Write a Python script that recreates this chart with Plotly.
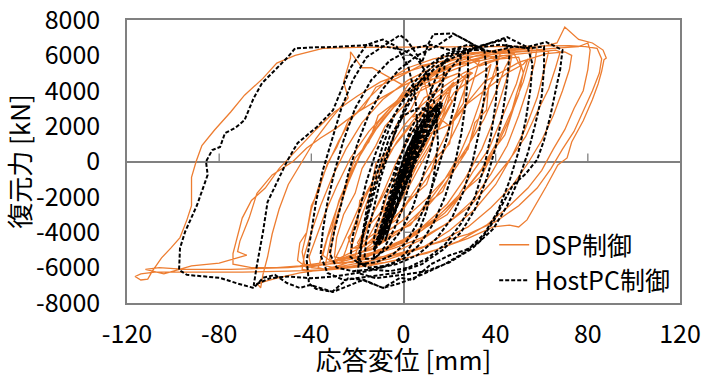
import plotly.graph_objects as go

# ---------------- data ----------------
# DSP control: displacement [mm] / restoring force [kN]
dsp_x_small = [0, 3, 6, 10, 13, 11, 8, 4, 0, -3, -6, -4, -1, 2, 6, 10, 15, 19, 21, 19, 16, 12, 7, 2,
               -3, -8, -12, -14, -11, -7, -3, 1, 5, 10, 16, 22, 27, 29, 26, 23, 18, 13, 7, 1, -5, -11,
               -16, -19, -17, -13, -8, -3, 3, 9]
dsp_y_small = [0, 900, 1800, 2700, 3300, 2500, 1400, 200, -900, -1900, -2800, -2100, -1000, 0, 1300,
               2400, 3400, 4000, 4300, 3300, 2200, 900, -300, -1500, -2600, -3500, -4200, -4600, -3700,
               -2600, -1300, 0, 1200, 2500, 3600, 4400, 4900, 5000, 3900, 2800, 1400, 100, -1200, -2400,
               -3400, -4300, -4900, -5200, -4200, -2900, -1500, 0, 1500, 2800]

dsp_x_jag = [4, 9, 13, 18, 24, 27, 26, 22, 20, 14, 10, 3, -3, -10, -17, -22, -24, -20, -19, -14, -12,
             -6, -3, 3, 8, 15, 21, 30, 36, 41, 40, 37, 36, 31, 28, 22, 17, 9, 3, -6, -14, -23, -31,
             -35, -33, -31, -28, -25, -21, -15, -11, -3, 3, 12, 19, 28, 33, 42, 50, 52, 50, 48, 44,
             40, 34, 26, 19, 10, 0, -11, -22, -33, -42, -46, -45, -42, -40, -37, -33, -29, -24, -17,
             -12, -3, 7, 18, 28, 38, 48, 51, 49, 45, 41, 37, 30, 24, 15, 6, -4, -15, -25, -30, -29,
             -26, -21, -18, -12, -8, -1, 6, 12, 20, 9]
dsp_y_jag = [2500, 3600, 3900, 4700, 5000, 4600, 3300, 2500, 1000, 200, -1300, -2100, -3300, -3900,
             -4800, -4900, -4300, -3600, -2200, -1500, -100, 700, 2100, 2900, 4200, 4500, 5400, 5600,
             6000, 5700, 4900, 4300, 2900, 2200, 700, -200, -1700, -2500, -3600, -4100, -5000, -5300,
             -5700, -5300, -4300, -3700, -2200, -1300, 200, 1100, 2600, 3400, 4500, 4900, 5700, 5900,
             5400, 5800, 5900, 5000, 3800, 3100, 1500, 800, -800, -1700, -3000, -3700, -4600, -5000,
             -5700, -5800, -6000, -5600, -4600, -4000, -2500, -1700, -100, 800, 2300, 3100, 4200, 4700,
             5400, 5700, 6100, 6200, 6100, 5300, 4400, 3200, 1900, 700, -600, -1900, -3100, -4100,
             -4800, -5300, -5500, -5400, -4300, -3000, -1800, -400, 900, 2000, 3000, 3900, 4300, 4800,
             4600, 2800]

dsp_x_fill = [12, 20, 28, 37, 45, 52, 54, 52, 49, 46, 41, 35, 27, 18, 8, -4, -16, -28, -38, -43, -44,
              -42, -40, -37, -33, -28, -22, -15, -7, 2, 13, 25, 34, 42, 41, 38, 35, 31, 27, 21, 14, 6,
              -3, -13, -24, -30, -32, -31, -29, -26, -22, -17, -11, -4, 4, 14, 24, 31, 33, 31, 28, 24,
              19, 13, 6, -2, -10, -17, -22, -23, -21, -18, -14, -9, -3, 4, 11, 18, 22, 21, 18, 14, 9,
              3, -3, -8, -10, -8, -4, 1, 6, 10]
dsp_y_fill = [2000, 3300, 4200, 5000, 5500, 5800, 5000, 3800, 2400, 1000, -300, -1600, -2900, -3900,
              -4700, -5300, -5700, -5900, -5800, -5100, -4000, -2700, -1500, -200, 1200, 2500, 3600,
              4600, 5300, 5800, 6100, 6200, 6100, 5700, 4600, 3300, 1800, 500, -700, -2000, -3200,
              -4100, -4900, -5400, -5700, -5500, -4600, -3300, -1900, -500, 900, 2200, 3300, 4300, 5000,
              5500, 5800, 5700, 4800, 3600, 2200, 900, -400, -1700, -2900, -3800, -4500, -4900, -5000,
              -4200, -3000, -1700, -300, 1100, 2300, 3300, 4000, 4500, 4400, 3300, 2000, 700, -600,
              -1800, -2800, -3500, -3100, -2000, -800, 500, 1500, 2100]

dsp_x_right = [20, 35, 50, 62, 70, 73, 72, 69, 65, 60, 54, 47, 38, 28, 16, 3, -10, -22, -30, -34, -33,
               -31, -28, -24, -19, -12, -4, 6, 18, 30, 44, 58, 66, 68, 66, 63, 58, 53, 46, 38, 29, 19,
               8, -4, -14, -20, -21, -18, -13, -7, 0, 8]
dsp_y_right = [4500, 5600, 6100, 6200, 6000, 5200, 4000, 2600, 1200, -100, -1400, -2600, -3700, -4500,
               -5100, -5500, -5800, -6000, -5900, -5200, -4000, -2700, -1200, 300, 1800, 3100, 4200,
               5000, 5600, 6000, 6200, 6300, 6200, 5300, 4100, 2800, 1400, 100, -1200, -2500, -3500,
               -4300, -4900, -5300, -5600, -5300, -4200, -2900, -1500, -100, 1200, 2400]

dsp_x_mid = [15, 22, 30, 36, 38, 36, 33, 29, 24, 17, 9, 0, -9, -18, -25, -27, -25, -22, -18, -13, -7, 0,
             8, 17, 26, 35, 44, 47, 46, 43, 39, 34, 27, 19, 9, -2, -14, -26, -34, -37, -35, -32, -28,
             -23, -17, -9, 0, 10, 20, 32, 45, 55, 58, 57, 54, 50, 45, 38, 30, 20, 8, -5, -18, -30, -40,
             -44, -43, -40, -36, -31, -25, -18, -9, 2, 14, 28]
dsp_y_mid = [3900, 4700, 5200, 5500, 4600, 3300, 1800, 300, -1200, -2600, -3700, -4500, -5100, -5500,
             -5700, -5000, -3800, -2500, -1000, 600, 2000, 3200, 4200, 5000, 5600, 5900, 6000, 5200,
             3900, 2300, 700, -900, -2400, -3600, -4600, -5300, -5800, -6100, -6000, -5100, -3800,
             -2300, -700, 900, 2400, 3700, 4700, 5500, 6000, 6300, 6400, 6500, 5600, 4200, 2600, 900,
             -700, -2200, -3400, -4400, -5200, -5800, -6100, -6200, -6100, -5300, -4000, -2500, -900,
             700, 2200, 3500, 4600, 5400, 6000, 6300]

dsp_x_large = [40, 55, 62, 66.6, 70, 76, 82, 86.6, 88, 87, 86, 84.5, 82, 78, 73, 71, 67, 62, 57, 53.6,
               50, 46, 39, 28, 14, 0, -15, -30, -50, -70, -94, -108, -114, -116.5, -114, -111, -109,
               -105, -101, -97, -94, -92, -92, -90, -87.5, -82, -75, -69, -61, -55, -47, -35, -20, 0,
               20, 40, 60, 72, 79, 84, 86, 85, 82, 78, 74, 69, 64, 58, 50, 40, 28, 12, -5, -25, -50,
               -75, -95, -106, -112, -104, -96, -92, -80, -68, -72, -71, -67, -63.6, -57, -48, -42,
               -36, -29, -21, -11, 0, 12, 25, 40, 55, 65, 76, 80, 81, 80, 78, 74, 70, 65, 60, 54, 46,
               36, 24, 10, -8, -28, -45, -55, -63.5, -62, -61, -59, -57, -54, -50, -44, -38, -31, -24,
               -26, -23, -23, -18, -13.7, -7, 0, 10, 22, 35]
dsp_y_large = [6450, 6550, 6700, 7600, 6900, 6700, 6300, 5850, 5750, 5100, 4400, 3500, 2300, 1100, 200,
               -200, -1400, -2500, -3300, -3700, -3600, -3700, -4350, -5000, -5500, -5900, -6100, -6200,
               -6250, -6250, -6250, -6350, -6500, -6700, -6650, -6200, -5450, -4900, -4300, -3300,
               -2500, -900, 0, 900, 1780, 2800, 3750, 4700, 5560, 6000, 6400, 6450, 6450, 6480, 6500,
               6520, 6550, 6500, 6400, 5800, 5000, 4000, 2800, 1700, 700, -400, -1500, -2500, -3400,
               -4100, -4700, -5300, -5700, -6000, -6100, -6100, -6000, -6100, -6350, -6050, -5900,
               -5740, -5300, -5100, -4500, -3200, -1800, -760, 0, 760, 1330, 1900, 2700, 3500, 4300,
               5000, 5600, 6100, 6300, 6400, 6500, 6700, 6300, 5200, 4000, 3000, 1800, 700, -500,
               -1500, -2500, -3600, -4500, -5200, -5700, -6000, -6300, -6600, -6900, -7150, -6400,
               -5400, -4100, -2700, -1300, 0, 1300, 2500, 3600, 4500, 5850, 6200, 5300, 5300, 4800,
               4300, 4900, 5600, 6100, 6300]

dsp_x_late = [50, 56, 55, 52, 47, 41, 34, 25, 14, 2, -12, -28, -45, -55, -66, -74, -74, -70, -66, -60,
              -54, -46, -38, -30, -20, -10, 2, 15, 28, 42, 52, 60, 63, 61, 58, 53, 47, 40, 31, 20, 8,
              -6, -20, -33, -40, -41, -38, -34, -29, -23, -15, -6, 4, 15, 26, 36, 44, 47, 44, 40, 35,
              28, 20, 10, -1, -12, -22, -29, -30, -27, -23, -18, -12, -5, 3, 12, 20, 27, 30, 28, 24,
              19, 13, 6, -2, -10, -17, -20, -18, -14, -9, -3, 4, 11, 17, 21, 19, 15, 10, 4, -2, -7,
              -9, -7, -3, 2, 6]
dsp_y_late = [6400, 5900, 4500, 2900, 1200, -400, -1900, -3200, -4300, -5100, -5600, -5900, -6000,
              -6000, -5800, -5200, -3200, -2200, -1500, -400, 700, 1800, 2800, 3700, 4500, 5100, 5600,
              5900, 6100, 6200, 6300, 6200, 5200, 3600, 1900, 300, -1300, -2700, -3900, -4900, -5500,
              -5900, -6100, -6000, -5400, -4300, -2900, -1400, 200, 1700, 3000, 4100, 5000, 5600, 5900,
              6000, 6000, 5300, 3900, 2400, 900, -700, -2100, -3400, -4400, -5100, -5500, -5600,
              -4800, -3600, -2200, -800, 700, 2000, 3200, 4100, 4700, 5000, 5100, 4100, 2800, 1300,
              -200, -1600, -2900, -3900, -4600, -4900, -4000, -2800, -1500, -100, 1300, 2500, 3400,
              3900, 3000, 1800, 500, -800, -1900, -2700, -3200, -2400, -1300, -200, 700]

# HostPC control: displacement [mm] / restoring force [kN]
host_x_core = [0, 2, 4, 6, 5, 3, 0, -2, -4, -5, -4, -2, 0, 3, 6, 9, 8, 5, 2, -1, -3, -6, -8, -7, -5,
               -2, 1, 4, 8, 11, 13, 11, 8, 4, 1, -2, -5, -8, -10, -11, -9, -7, -4, -1, 2, 6, 10, 14,
               16, 14, 10, 6, 2, -2, -5, -8, -11, -13, -11, -9, -6, -3, 0, 4, 8, 12, 15, 12, 8, 4, 0,
               -4, -7, -10, -12, -10, -7, -4, -1, 2, 6]
host_y_core = [0, 700, 1400, 2000, 1500, 800, -200, -900, -1700, -2200, -1600, -700, 100, 1000, 1800,
               2400, 1900, 1100, 200, -700, -1500, -2600, -3400, -2800, -1900, -900, 200, 1100, 2000,
               2600, 3000, 2400, 1600, 500, -500, -1500, -2600, -3600, -4300, -4700, -3900, -3000,
               -1900, -700, 400, 1500, 2300, 2900, 3200, 2600, 1700, 700, -400, -1500, -2600, -3700,
               -4500, -5000, -4300, -3400, -2200, -1000, 200, 1300, 2200, 2800, 3300, 2500, 1500, 400,
               -800, -2100, -3200, -4200, -4800, -4000, -2900, -1600, -300, 800, 1800]

host_x_core2 = [9, 12, 15, 13, 11, 8, 5, 2, -1, -3, -6, -8, -10, -12, -13, -12, -10, -8, -5, -3, 0, 3,
                6, 9, 12, 10, 7, 3, 0, -3, -5, -7, -9, -7, -4, -1, 2, 5, 8, 11, 13, 10, 6, 2, -1, -4,
                -6, -4, -1, 2, 4, 6]
host_y_core2 = [2500, 2900, 3200, 2300, 1600, 800, 100, -700, -1600, -2400, -3400, -4100, -4600, -4900,
                -4500, -3800, -3000, -2000, -1000, -200, 700, 1500, 2100, 2700, 3100, 2400, 1500, 500,
                -600, -1700, -2700, -3500, -4300, -3300, -2000, -800, 300, 1200, 1900, 2500, 2700, 1900,
                900, -300, -1300, -2400, -3200, -2200, -1000, 200, 1000, 1800]

host_x_core3 = [10, 14, 17, 15, 12, 9, 6, 3, 0, -3, -5, -7, -8, -6, -4, -1, 2, 5, 8, 11, 14, 16, 13,
                10, 7, 4, 1, -2, -4, -2, 1, 4, 7, 10, 13, 10, 6, 2, -1, 1, 4, 6]
host_y_core3 = [2600, 3000, 3300, 2600, 1800, 1000, 200, -600, -1400, -2400, -3200, -4000, -4500,
                -3700, -2800, -1800, -800, 100, 900, 1700, 2400, 2800, 2100, 1300, 500, -400, -1300,
                -2300, -3000, -2100, -1100, -200, 700, 1500, 2100, 1300, 400, -500, -1200, -400, 400,
                1000]

host_x_extra = [10, 13, 16, 18, 17, 15, 12, 8, 4, -1, -7, -13, -17, -16, -13, -10, -6, -2, 3, 9, 16,
                23, 28, 28, 27, 25, 22, 18, 13, 7, 0, -8, -15, -19, -18, -16, -13, -9, -4, 2, 9, 17,
                25, 33, 40, 41, 40, 38, 35, 31, 25, 18, 10, 2, -6, -14, -20, -18, -15, -11, -6, 0, 6,
                13, 21, 30, 42, 55, 61, 61, 60, 57, 54, 50, 45, 39, 30, 20, 10, 0, -12, -20, -18, -15,
                -11, -6, 0, 6]
host_y_extra = [3200, 4400, 5300, 5700, 4300, 2600, 800, -1000, -2600, -3900, -4900, -5500, -5500,
                -4300, -2700, -1000, 700, 2300, 3700, 4900, 5800, 6200, 6300, 5000, 3300, 1500, -300,
                -2000, -3500, -4700, -5500, -5900, -6000, -5600, -4300, -2700, -900, 900, 2600, 4000,
                5200, 6000, 6400, 6300, 6200, 5000, 3300, 1500, -300, -2000, -3500, -4700, -5500, -6000,
                -6200, -6100, -5700, -4400, -2800, -1000, 900, 2700, 4100, 5200, 6000, 6400, 6600, 6400,
                6500, 5300, 3700, 2000, 500, -1000, -2500, -3800, -4900, -5700, -6200, -6400, -6600,
                -6300, -4500, -2500, -500, 1400, 2600, 3000]

host_x_mid = [10, 15, 20, 24, 25, 24, 22, 19, 15, 11, 6, 1, -5, -12, -19, -23, -22, -19, -16, -12, -7,
              -1, 6, 14, 22, 30, 35, 36, 35, 33, 30, 26, 21, 14, 6, -3, -14, -22, -29, -32, -30, -27,
              -24, -20, -15, -9, -2, 6, 14, 22, 32, 38, 44, 46, 45, 43, 40, 36, 31, 25, 17, 8, -3,
              -15, -26, -33, -36, -35, -33, -30, -26, -21, -14, -6, 4, 12, 20, 28, 38, 48, 54, 56,
              55, 53, 50, 46, 41, 35, 27, 18, 8, -2, -9, -17, -24, -31, -38, -41, -42, -40, -38, -35,
              -31, -27, -22, -16, -9, -1.5, 1.5, 4, 8, 11, 13, 21.5, 28, 32, 37.6, 45, 53.6, 62, 69]
host_y_mid = [3000, 4200, 5200, 5800, 6100, 4800, 3200, 1400, -400, -2000, -3500, -4600, -5300, -5700,
              -5800, -5400, -4200, -2700, -1100, 500, 2000, 3300, 4400, 5300, 5900, 6300, 6400, 5200,
              3600, 1800, 0, -1700, -3200, -4400, -5300, -5800, -6100, -6200, -6000, -5200, -3900,
              -2400, -700, 1000, 2700, 4100, 5200, 6000, 6500, 7200, 6500, 6700, 6900, 6100, 4500,
              2700, 800, -1000, -2700, -4000, -5000, -5800, -6300, -6500, -6700, -6300, -5300, -3900,
              -2300, -600, 1200, 3000, 4600, 5700, 6400, 6600, 6300, 6600, 6200, 6500, 6400, 5500,
              4000, 2300, 600, -1100, -2800, -4100, -5100, -5800, -6400, -6900, -7150, -6700, -6600,
              -7370, -7200, -6900, -5600, -4000, -2300, -500, 1300, 3000, 4600, 5900, 6500, 7150, 6850,
              6400, 5600, 6700, 7200, 7240, 6800, 6450, 6700, 7030, 6470, 6750, 6300]

host_x_outer = [68, 66, 63.6, 61, 58, 53, 47.5, 43, 39, 33, 27, 20, 12, 4, -1.5, -8.8, -17.6, -30.6,
                -40.6, -45, -50.6, -55.8, -61, -65, -72, -79.6, -94, -97.4, -97, -94.8, -89.6, -85,
                -85.7, -83, -79.6, -77.5, -73, -69, -65, -61.4, -55, -50.6, -47, -40, -30.6, -16, -8,
                0, 6, 10, 14, 15, 13, 10, 6, 1, -5, -12, -20, -30, -40, -50, -58, -63, -65, -63.6,
                -61, -59, -55, -50.6, -46, -37.6, -30.6, -26, -23, -16, -9, -3]
host_y_outer = [5200, 4000, 2500, 1200, 100, -700, -1330, -2400, -3400, -4550, -5000, -5300, -5800,
                -6700, -6580, -7150, -6700, -7370, -6980, -7150, -6870, -6410, -6580, -7150, -6900,
                -6580, -6410, -6130, -4900, -3980, -2460, -760, 0, 650, 820, 1600, 1900, 2340, 3590,
                4430, 5280, 5850, 6400, 6450, 6470, 6580, 6500, 6300, 5800, 5000, 3000, 1000, -1000,
                -2800, -4200, -5200, -5800, -6100, -6300, -6500, -6600, -6500, -6600, -6900, -7000,
                -5850, -4000, -2290, -1160, 0, 1040, 1950, 2900, 4400, 5300, 6600, 6900, 6500]

host_x_late = [2, 5, 6, 5, 3, 0, -4, -8, -11, -13, -12, -9, -6, -3, 0, 3, 6, 9, 11, 10, 7, 4, 1, -3,
               -6, -9, -10, -8, -5, -2, 1, 4, 7, 9]
host_y_late = [5400, 3800, 2200, 600, -1000, -2500, -3800, -4800, -5300, -5500, -4600, -3300, -1900,
               -500, 800, 1800, 2500, 3000, 3300, 2300, 1100, -200, -1400, -2600, -3600, -4300, -4600,
               -3800, -2700, -1500, -300, 700, 1500, 2000]

# axes / labels
x_ticks = [-120, -80, -40, 0, 40, 80, 120]
x_tick_text = ["-120", "-80", "-40", "0", "40", "80", "120"]
y_ticks = [-8000, -6000, -4000, -2000, 0, 2000, 4000, 6000, 8000]
y_tick_text = ["-8000", "-6000", "-4000", "-2000", "0", "2000", "4000", "6000", "8000"]
series_names = ["DSP制御", "HostPC制御"]
x_title = "応答変位 [mm]"
y_title = "復元力 [kN]"

# ---------------- figure ----------------
dsp_x = dsp_x_small + dsp_x_jag + dsp_x_fill + dsp_x_right + dsp_x_mid + dsp_x_large + dsp_x_late
dsp_y = dsp_y_small + dsp_y_jag + dsp_y_fill + dsp_y_right + dsp_y_mid + dsp_y_large + dsp_y_late
host_x = (host_x_core + host_x_core2 + host_x_core3 + host_x_extra + host_x_mid + host_x_outer
          + host_x_late)
host_y = (host_y_core + host_y_core2 + host_y_core3 + host_y_extra + host_y_mid + host_y_outer
          + host_y_late)

FONT = "Noto Sans CJK JP"
AX_GRAY = "#808080"
FS = 25

fig = go.Figure()
fig.add_trace(go.Scatter(x=dsp_x, y=dsp_y, mode="lines", name=series_names[0],
                         line=dict(color="#ED7D31", width=1.3)))
fig.add_trace(go.Scatter(x=host_x, y=host_y, mode="lines", name=series_names[1],
                         line=dict(color="#000000", width=2, dash="4px,2px")))

# small tick marks on the zero-crossing axes
x_range = [-120, 120]
y_range = [-8000, 8000]
plot_w, plot_h = 553, 283
tick_px = 8
y_per_px = (y_range[1] - y_range[0]) / plot_h
x_per_px = (x_range[1] - x_range[0]) / plot_w
shapes = []
for v in x_ticks:
    if v not in (0, x_range[0], x_range[1]):
        shapes.append(dict(type="line", xref="x", yref="y", x0=v, x1=v, y0=0, y1=tick_px * y_per_px,
                           line=dict(color=AX_GRAY, width=1.3), layer="below"))
for v in y_ticks:
    if v not in (0, y_range[0], y_range[1]):
        shapes.append(dict(type="line", xref="x", yref="y", y0=v, y1=v, x0=0, x1=tick_px * x_per_px,
                           line=dict(color=AX_GRAY, width=1.3), layer="below"))

fig.update_layout(
    width=702, height=377,
    margin=dict(l=127, r=22, t=20, b=74, autoexpand=False),
    paper_bgcolor="white", plot_bgcolor="white",
    font=dict(family=FONT, size=FS, color="#000000"),
    shapes=shapes,
    showlegend=True,
    legend=dict(x=0.664, y=0.0, xanchor="left", yanchor="bottom",
                bgcolor="rgba(0,0,0,0)", font=dict(family=FONT, size=FS),
                traceorder="normal", itemwidth=30),
    xaxis=dict(range=x_range, tickvals=x_ticks, ticktext=x_tick_text, automargin=False,
               ticklabeloverflow="allow",
               showgrid=False, showline=True, mirror=True, linecolor=AX_GRAY, linewidth=1.5,
               zeroline=True, zerolinecolor=AX_GRAY, zerolinewidth=1.5,
               ticks="outside", ticklen=8, tickcolor="rgba(0,0,0,0)",
               tickfont=dict(family=FONT, size=FS),
               title=dict(text=x_title, font=dict(family=FONT, size=26), standoff=6)),
    yaxis=dict(range=y_range, tickvals=y_ticks, ticktext=y_tick_text, automargin=False,
               ticklabeloverflow="allow",
               showgrid=False, showline=True, mirror=True, linecolor=AX_GRAY, linewidth=1.5,
               zeroline=True, zerolinecolor=AX_GRAY, zerolinewidth=1.5,
               ticks="outside", ticklen=20, tickcolor="rgba(0,0,0,0)",
               tickfont=dict(family=FONT, size=FS),
               title=dict(text=y_title, font=dict(family=FONT, size=26), standoff=0)),
)

fig.write_html("out.html", config={"displayModeBar": False},
               post_script="document.body.style.margin='0';")
